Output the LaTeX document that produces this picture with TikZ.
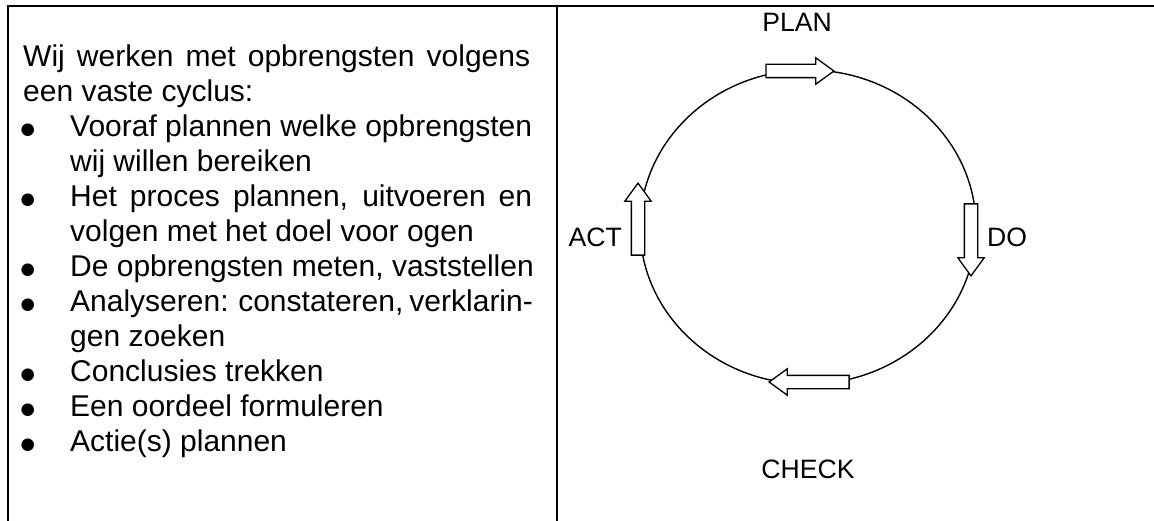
\documentclass[tikz,border=0pt]{standalone}
\usepackage{fontspec}
\setmainfont{Liberation Sans}
\newfontfamily\pdcsym{DejaVu Sans}
\usetikzlibrary{shapes.arrows}

\newcommand{\pdcdot}{\makebox[47pt][l]{\hspace*{-2.5pt}\raisebox{2.6pt}{\pdcsym\fontsize{16.5}{18}\selectfont ●}}}
\newcommand{\pdcbul}[1]{\pdcdot#1}
\newcommand{\pdcjust}[1]{\pdcdot\makebox[462pt][s]{#1}}
\newcommand{\pdcnext}[1]{\hspace*{47pt}#1}

\tikzset{
  frameline/.style={line width=2pt},
  cycleline/.style={line width=1.4pt},
  blockarrow/.style={single arrow, draw, fill=white, line width=1.3pt,
    inner xsep=0pt, inner ysep=6pt, single arrow head extend=6.5pt,
    single arrow tip angle=72, anchor=tip},
  phase/.style={font=\fontsize{26.6}{30}\selectfont, inner sep=0pt},
  intro/.style={font=\fontsize{30}{35}\selectfont, align=left, inner sep=0pt}
}

\begin{document}
\begin{tikzpicture}[x=1pt, y=-1pt]
    \useasboundingbox (0,0) rectangle (1154,521);
    % table lines
    \draw[frameline] (8,521) -- (8,6) -- (1154,6);
    \draw[frameline] (557,6) -- (557,521);

    % left cell
    \node[intro, anchor=north west] (intro) at (23,42.2) {\strut\makebox[507pt][s]{Wij werken met opbrengsten volgens}\\
      een vaste cyclus:\\
      \pdcjust{Vooraf plannen welke opbrengsten}\\
      \pdcnext{wij willen bereiken}\\
      \pdcjust{Het proces plannen, uitvoeren en}\\
      \pdcnext{volgen met het doel voor ogen}\\
      \pdcbul{De opbrengsten meten, vaststellen}\\
      \pdcjust{Analyseren: constateren, verklarin-}\\
      \pdcnext{gen zoeken}\\
      \pdcbul{Conclusies trekken}\\
      \pdcbul{Een oordeel formuleren}\\
      \pdcbul{Actie(s) plannen}};

    % cycle
    \draw[cycleline] (808,227) ellipse [x radius=168pt, y radius=157pt];
    \node[blockarrow, minimum height=68pt] (planarrow) at (835,71) {};
    \node[blockarrow, minimum height=72pt, rotate=-90] (doarrow) at (971,277) {};
    \node[blockarrow, minimum height=80pt, rotate=180] (checkarrow) at (768,382) {};
    \node[blockarrow, minimum height=72pt, rotate=90] (actarrow) at (638,182) {};

    \node[phase, anchor=base] (plan) at (797,32) {PLAN};
    \node[phase, anchor=base west] (do) at (987,247) {DO};
    \node[phase, anchor=base] (check) at (808,478) {CHECK};
    \node[phase, anchor=base east] (act) at (622,247) {ACT};
\end{tikzpicture}
\end{document}
